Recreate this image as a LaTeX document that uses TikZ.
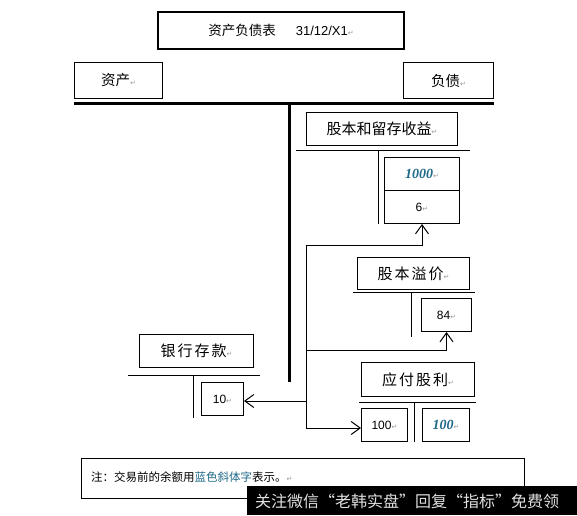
\documentclass[tikz,border=0pt]{standalone}
\usepackage{fontspec}
\setmainfont{Liberation Sans}
\newfontfamily\cjk{Noto Sans CJK SC}
\newfontfamily\djv{DejaVu Sans}
\newfontfamily\tnr{Liberation Serif}
\usetikzlibrary{arrows.meta}
\definecolor{bluenum}{RGB}{30,105,135}
\newcommand\retmark{{\djv\fontsize{7}{7}\selectfont\textcolor{black!40}{↵}}}
\newcommand\ls{\hspace{2pt}}
\newcommand\cjkhead{\cjk\fontsize{15}{15}\selectfont}
\newcommand\numf{\fontsize{12}{12}\selectfont}
\newcommand\bluef{\tnr\bfseries\itshape\fontsize{14}{14}\selectfont\color{bluenum}}
\begin{document}
\begin{tikzpicture}[x=1pt,y=-1pt,
  box/.style={draw, line width=1pt, inner sep=0pt, anchor=north west, align=center},
  arr/.style={line width=1pt, -{Straight Barb[length=9pt,width=13pt,line width=1pt]}},
  tline/.style={line width=1pt},
  thick line/.style={line width=3pt}]
\useasboundingbox (0,0) rectangle (577,515);
\fill[white] (0,0) rectangle (577,515);

% title and top headers
\node[box, line width=2pt, minimum width=246pt, minimum height=37pt] (title) at (157,11)
  {{\cjk\fontsize{13.5}{13.5}\selectfont 资产负债表}\hspace{20pt}{\fontsize{13}{13}\selectfont 31/12/X1}\retmark};
\node[box, minimum width=88pt, minimum height=36pt] (assets) at (74,62)
  {{\cjk\fontsize{14.5}{14.5}\selectfont 资产}\retmark};
\node[box, minimum width=90pt, minimum height=36pt] (liab) at (403,62)
  {{\cjk\fontsize{14.5}{14.5}\selectfont 负债}\retmark};
\draw[thick line] (74,103) -- (494,103);
\draw[thick line] (289,103) -- (289,382);

% equity T-account
\node[box, minimum width=151pt, minimum height=33pt] (equity) at (306,112)
  {{\cjkhead 股本和留存收益}\retmark};
\draw[tline] (296,150) -- (470,150);
\draw[tline] (378,150) -- (378,224);
\node[box, minimum width=75pt, minimum height=33pt] (b1000) at (384,157)
  {{\bluef 1000}\retmark};
\node[box, minimum width=75pt, minimum height=33pt] (b6) at (384,190)
  {{\numf 6}\retmark};

% share premium T-account
\node[box, minimum width=112pt, minimum height=32pt] (premium) at (357,257)
  {{\cjkhead 股\ls 本\ls 溢\ls 价}\retmark};
\draw[tline] (353,292) -- (475,292);
\draw[tline] (411,292) -- (411,337);
\node[box, minimum width=50pt, minimum height=33pt] (b84) at (421,298)
  {{\numf 84}\retmark};

% bank T-account
\node[box, minimum width=114pt, minimum height=33pt] (bank) at (139,334)
  {{\cjkhead 银\ls 行\ls 存\ls 款}\retmark};
\draw[tline] (128,375) -- (260,375);
\draw[tline] (193,375) -- (193,418);
\node[box, minimum width=42pt, minimum height=33pt] (b10) at (201,382)
  {{\numf 10}\retmark};

% dividends payable T-account
\node[box, minimum width=113pt, minimum height=34pt] (div) at (361,362)
  {{\cjkhead 应\ls 付\ls 股\ls 利}\retmark};
\draw[tline] (359,402) -- (476,402);
\draw[tline] (414,402) -- (414,442);
\node[box, minimum width=46pt, minimum height=33pt] (b100) at (361,408)
  {{\numf 100}\retmark};
\node[box, minimum width=47pt, minimum height=33pt] (b100b) at (422,408)
  {{\bluef 100}\retmark};

% connectors
\coordinate (j1) at (306,245);
\coordinate (j2) at (306,350);
\coordinate (j3) at (306,401);
\coordinate (j4) at (306,428);
\draw[tline] (j1) -- (j4);
\draw[arr] (j1) -| (b6.south);
\draw[arr] (j2) -| (b84.south);
\draw[arr] (j3) -- (j3 -| b10.east);
\draw[arr] (j4) -- (j4 -| b100.west);

% note
\node[box, minimum width=443pt, minimum height=40pt] (note) at (81,458) {};
\node[anchor=west, inner sep=0pt] (notetext) at (91,477)
  {\cjk\fontsize{11.5}{11.5}\selectfont 注：交易前的余额用\textcolor{bluenum}{蓝色斜体字}表示。\retmark};

% watermark
\fill[black] (247,486) rectangle (577,515);
\node[anchor=west, inner sep=0pt, text=white!88!black] (wm) at (255,501)
  {\cjk\fontsize{16}{16}\selectfont 关注微信“老韩实盘”回复“指标”免费领};
\end{tikzpicture}
\end{document}
